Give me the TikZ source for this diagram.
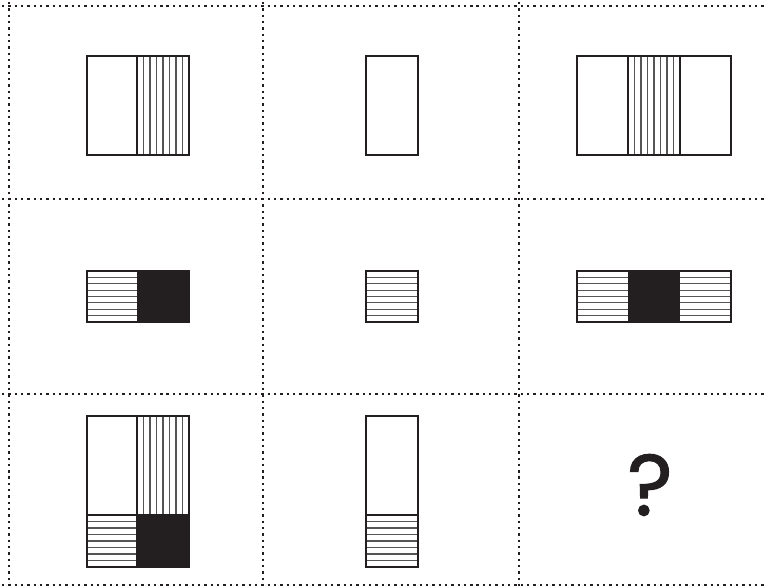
\documentclass[tikz,border=0pt]{standalone}
\usepackage{fontspec}
\usetikzlibrary{calc}
\newfontfamily\askfont[FakeBold=1.2]{Poppins}
\definecolor{inkBlack}{HTML}{231F20}
\definecolor{hatchGray}{HTML}{555555}

% hatching inside a box: x0, y0, x1, y1
\newcommand{\vhatch}[4]{%
  \foreach \k in {1,...,7}
    \draw[hatch] ({#1+\k*(#3-#1)/8},#2) -- ({#1+\k*(#3-#1)/8},#4);}
\newcommand{\hhatch}[4]{%
  \foreach \k in {1,...,7}
    \draw[hatch] (#1,{#2+\k*(#4-#2)/8}) -- (#3,{#2+\k*(#4-#2)/8});}

\begin{document}
\begin{tikzpicture}[
    x=0.03cm, y=-0.03cm,
    grid/.style={line width=2.1pt, dash pattern=on 2pt off 3.4pt, inkBlack},
    outline/.style={draw=inkBlack, line width=2pt},
    hatch/.style={draw=hatchGray, line width=0.9pt},
    solid/.style={fill=inkBlack},
  ]
  \useasboundingbox (0,0) rectangle (766,587);

  % dotted grid
  \foreach \yy in {6,199,394,585}
    \draw[grid] (2,\yy) -- (766,\yy);
  \foreach \xx in {9,263,519}
    \draw[grid] (\xx,2) -- (\xx,587);

  % row 1
  \vhatch{137}{56}{189}{155}
  \draw[outline] (87,56) rectangle (189,155) (137,56) -- (137,155);
  \draw[outline] (366,56) rectangle (418,155);
  \vhatch{628}{56}{680}{155}
  \draw[outline] (577,56) rectangle (731,155)
    (628,56) -- (628,155) (680,56) -- (680,155);

  % row 2
  \hhatch{87}{271}{137}{322}
  \fill[solid] (137,271) rectangle (189,322);
  \draw[outline] (87,271) rectangle (189,322);
  \hhatch{366}{271}{418}{322}
  \draw[outline] (366,271) rectangle (418,322);
  \hhatch{577}{271}{628}{322}
  \fill[solid] (628,271) rectangle (680,322);
  \hhatch{680}{271}{731}{322}
  \draw[outline] (577,271) rectangle (731,322);

  % row 3
  \vhatch{137}{416}{189}{515}
  \hhatch{87}{515}{137}{567}
  \fill[solid] (137,515) rectangle (189,567);
  \draw[outline] (87,416) rectangle (189,567)
    (137,416) -- (137,567) (87,515) -- (189,515);
  \hhatch{366}{515}{418}{567}
  \draw[outline] (366,416) rectangle (418,567) (366,515) -- (418,515);

  \node[inkBlack, font=\fontsize{74}{74}\selectfont\askfont] (ask) at (650,485) {?};
\end{tikzpicture}
\end{document}
